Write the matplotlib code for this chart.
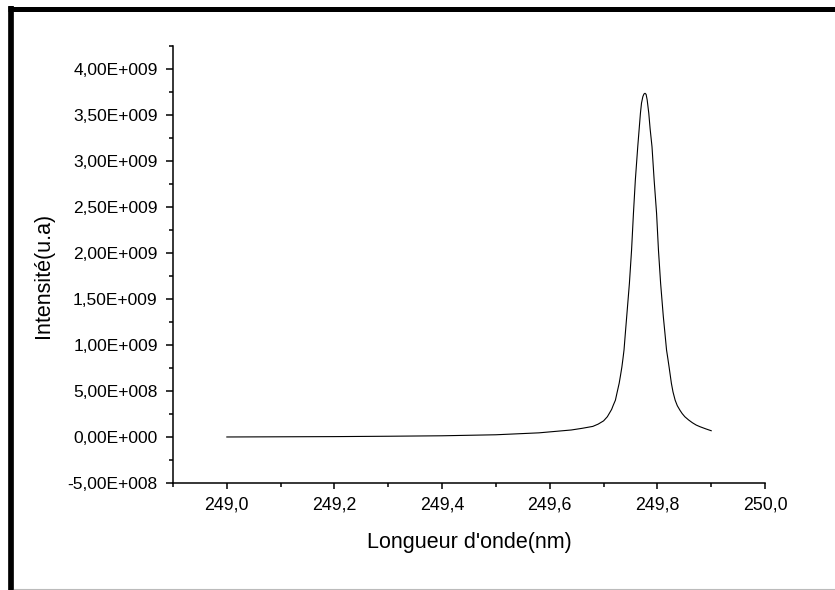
import numpy as np
import matplotlib
matplotlib.use("Agg")
import matplotlib.pyplot as plt
from matplotlib.ticker import MultipleLocator, FuncFormatter
from matplotlib.lines import Line2D

plt.rcParams['font.family'] = ['Liberation Sans', 'DejaVu Sans']

# emission line profile, wavelength (nm) vs intensity (u.a)
wavelength = [249.000, 249.100, 249.200, 249.300, 249.400, 249.500, 249.580,
              249.640, 249.660, 249.680, 249.690, 249.700, 249.707, 249.711,
              249.715, 249.718, 249.722, 249.725, 249.729, 249.7315, 249.734,
              249.736, 249.738, 249.7405, 249.743, 249.7455, 249.748, 249.750,
              249.752, 249.7555, 249.759, 249.7635, 249.7685, 249.7705,
              249.7730, 249.7750, 249.7770, 249.7790, 249.7810, 249.7840,
              249.7865, 249.7900, 249.7940, 249.7985, 249.8020, 249.8060,
              249.8085, 249.8110, 249.8140, 249.8170, 249.8195, 249.8220,
              249.8260, 249.8290, 249.8330, 249.8370, 249.8420, 249.8460,
              249.8510, 249.8580, 249.8650, 249.8720, 249.8790, 249.8900,
              249.9000]
intensity = [0.000e9, 0.002e9, 0.004e9, 0.008e9, 0.013e9, 0.024e9, 0.045e9,
             0.076e9, 0.094e9, 0.115e9, 0.140e9, 0.175e9, 0.220e9, 0.260e9,
             0.300e9, 0.345e9, 0.400e9, 0.480e9, 0.584e9, 0.670e9, 0.760e9,
             0.850e9, 0.946e9, 1.130e9, 1.310e9, 1.490e9, 1.670e9, 1.850e9,
             2.030e9, 2.430e9, 2.790e9, 3.155e9, 3.520e9, 3.630e9,
             3.700e9, 3.728e9, 3.736e9, 3.725e9, 3.665e9, 3.520e9,
             3.350e9, 3.155e9, 2.790e9, 2.430e9, 2.030e9, 1.670e9,
             1.490e9, 1.310e9, 1.130e9, 0.946e9, 0.850e9, 0.750e9,
             0.584e9, 0.490e9, 0.400e9, 0.340e9, 0.290e9, 0.255e9,
             0.220e9, 0.185e9, 0.155e9, 0.130e9, 0.112e9, 0.088e9,
             0.068e9]


def sci_fmt(v, pos):
    if abs(v) < 1:
        return "0,00E+000"
    e = int(np.floor(np.log10(abs(v)) + 1e-9))
    m = v / 10 ** e
    s = "+" if e >= 0 else "-"
    return "{:.2f}E{}{:03d}".format(m, s, abs(e)).replace(".", ",")


def comma_fmt(v, pos):
    return "{:.1f}".format(v).replace(".", ",")


fig = plt.figure(figsize=(8.35, 5.9), dpi=100)
ax = fig.add_axes([0.2072, 0.1814, 0.7090, 0.7406])

ax.plot(wavelength, intensity, color='black', lw=0.8)

ax.set_xlim(248.9, 250.0)
ax.set_ylim(-5e8, 4.25e9)
ax.xaxis.set_major_locator(MultipleLocator(0.2))
ax.xaxis.set_minor_locator(MultipleLocator(0.1))
ax.yaxis.set_major_locator(MultipleLocator(5e8))
ax.yaxis.set_minor_locator(MultipleLocator(2.5e8))
ax.xaxis.set_major_formatter(FuncFormatter(comma_fmt))
ax.yaxis.set_major_formatter(FuncFormatter(sci_fmt))

for side in ['top', 'right']:
    ax.spines[side].set_visible(False)
for side in ['left', 'bottom']:
    ax.spines[side].set_linewidth(1.1)

ax.tick_params(which='major', direction='out', length=5, width=1.1, pad=6)
ax.tick_params(which='minor', direction='out', length=3, width=1.1)
ax.tick_params(axis='y', which='major', labelsize=12.5)
ax.tick_params(axis='x', which='major', length=4.5, pad=5, labelsize=12.8)

ax.set_xlabel("Longueur d'onde(nm)", fontsize=15.5)
ax.set_ylabel("Intensité(u.a)", fontsize=15.5)
ax.xaxis.set_label_coords(0.5, -0.112)
ax.yaxis.set_label_coords(-0.201, 0.475)

# frame around the whole figure
W, H = 835.0, 590.0
fig.add_artist(Line2D([8 / W, 1.0], [1 - 8.5 / H, 1 - 8.5 / H],
                      transform=fig.transFigure, color='black', lw=3.6,
                      solid_capstyle='butt'))
fig.add_artist(Line2D([11.2 / W, 11.2 / W], [1 - 6 / H, 0.0],
                      transform=fig.transFigure, color='black', lw=4.1,
                      solid_capstyle='butt'))
fig.add_artist(Line2D([14 / W, 1.0], [1 - 589 / H, 1 - 589 / H],
                      transform=fig.transFigure, color='#bbbbbb', lw=0.8))

fig.savefig("out.png", dpi=100)
